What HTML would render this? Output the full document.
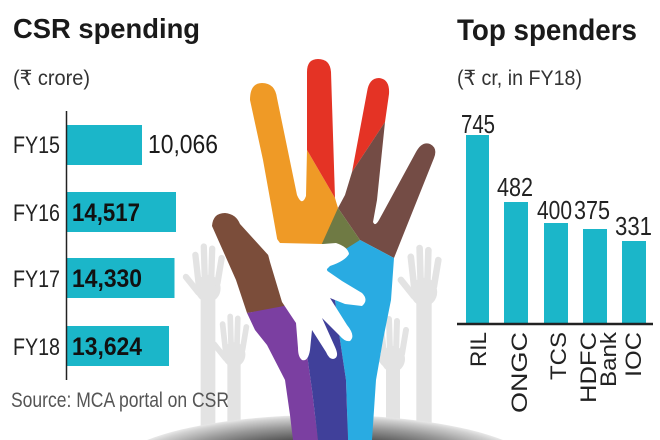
<!DOCTYPE html>
<html><head><meta charset="utf-8"><style>
html,body{margin:0;padding:0;background:#fff;width:660px;height:440px;overflow:hidden;}
svg{display:block;}
text{font-family:"Liberation Sans",sans-serif;}
</style></head><body>
<svg width="660" height="440" viewBox="0 0 660 440" xmlns="http://www.w3.org/2000/svg">
<defs>
<radialGradient id="sh" gradientUnits="userSpaceOnUse" cx="0" cy="0" r="1" gradientTransform="translate(325,472) scale(215,57)">
<stop offset="0" stop-color="#1a1a1a"/>
<stop offset="0.55" stop-color="#4a4a4a"/>
<stop offset="0.8" stop-color="#999"/>
<stop offset="0.95" stop-color="#d0d0d0"/>
<stop offset="1" stop-color="#e8e8e8"/>
</radialGradient>
</defs>
<rect width="660" height="440" fill="#fff"/>

<!-- gray background hands -->
<g fill="#e3e3e3" stroke="#e3e3e3" stroke-linecap="round">
 <g transform="translate(208,278) scale(1.05)">
  <ellipse cx="0" cy="10" rx="12" ry="13" stroke="none"/>
  <line x1="-9" y1="5" x2="-12" y2="-22" stroke-width="6"/>
  <line x1="-3" y1="3" x2="-4" y2="-30" stroke-width="6"/>
  <line x1="3" y1="3" x2="4" y2="-28" stroke-width="6"/>
  <line x1="9" y1="5" x2="13" y2="-19" stroke-width="6"/>
  <line x1="-9" y1="14" x2="-21" y2="-1" stroke-width="6"/>
  <rect x="-7" y="15" width="14" height="138" stroke="none"/>
 </g>
 <g transform="translate(234,345) scale(0.95)">
  <ellipse cx="0" cy="10" rx="12" ry="13" stroke="none"/>
  <line x1="-9" y1="5" x2="-12" y2="-22" stroke-width="6"/>
  <line x1="-3" y1="3" x2="-4" y2="-30" stroke-width="6"/>
  <line x1="3" y1="3" x2="4" y2="-28" stroke-width="6"/>
  <line x1="9" y1="5" x2="13" y2="-19" stroke-width="6"/>
  <line x1="-9" y1="14" x2="-21" y2="-1" stroke-width="6"/>
  <rect x="-7" y="15" width="14" height="83" stroke="none"/>
 </g>
 <g transform="translate(424,281) scale(1.1)">
  <ellipse cx="0" cy="10" rx="12" ry="13" stroke="none"/>
  <line x1="-9" y1="5" x2="-12" y2="-22" stroke-width="6"/>
  <line x1="-3" y1="3" x2="-4" y2="-30" stroke-width="6"/>
  <line x1="3" y1="3" x2="4" y2="-28" stroke-width="6"/>
  <line x1="9" y1="5" x2="13" y2="-19" stroke-width="6"/>
  <line x1="-9" y1="14" x2="-21" y2="-1" stroke-width="6"/>
  <rect x="-7" y="15" width="14" height="128" stroke="none"/>
 </g>
 <g transform="translate(393,349)">
  <ellipse cx="0" cy="10" rx="12" ry="13" stroke="none"/>
  <line x1="-9" y1="5" x2="-12" y2="-22" stroke-width="6"/>
  <line x1="-3" y1="3" x2="-4" y2="-30" stroke-width="6"/>
  <line x1="3" y1="3" x2="4" y2="-28" stroke-width="6"/>
  <line x1="9" y1="5" x2="13" y2="-19" stroke-width="6"/>
  <line x1="-9" y1="14" x2="-21" y2="-1" stroke-width="6"/>
  <rect x="-7" y="15" width="14" height="75" stroke="none"/>
 </g>
</g>

<!-- bottom shadow -->
<path d="M147,440 A215,57 0 0 1 503,440 Z" fill="url(#sh)"/>

<!-- big multicolour hand -->
<path d="M250,100 Q250,83 262,83 Q275,83 277,98 L297,195 Q302,207 306,196 L307,150 L335,198 L338,208 L323,255 L280,255 L272,210 L263,160 Z" fill="#ef9a26"/>
<path d="M307,150 L307,72 Q307,59 318,59 Q330,59 331,72 L335,198 Z" fill="#e43325"/>
<path d="M352,172 L367,92 Q369,78 379,78 Q390,79 389,94 L385,122 Z" fill="#e43325"/>
<path d="M338,208 L345,195 L352,172 L385,122 L377,200 L373,222 Q375,227 379,220 L416,152 Q422,141 430,144 Q438,148 434,158 L394,258 L360,240 Z" fill="#744c45"/>
<path d="M338,208 L360,240 L340,262 L328,272 L320,248 Z" fill="#6f7a44"/>
<path d="M325,262 L360,240 L394,258 L391,300 L383,340 L376,380 L372,440 L348,440 L346,380 L340,340 L335,300 Z" fill="#29abe2"/>

<!-- left arm -->
<path d="M212,226 Q213,213 225,213 Q236,214 240,224 L300,290 L300,305 L247,313 L236,280 Z" fill="#7b4d3a"/>
<path d="M247,313 L300,303 L305,340 L312,390 L318,440 L293,440 L290,415 L285,380 L267,345 L255,330 Z" fill="#7b3fa1"/>
<path d="M298,303 L322,290 L335,300 L340,340 L346,380 L348,440 L318,440 L312,390 L305,340 Z" fill="#40409a"/>

<!-- white hand -->
<path d="M257,212 L280,243 L323,244 L336,243 Q348,247 349,254 Q345,261 330,266 L326,270 L342,281 L362,293 Q369,300 362,306 L345,304 L330,298 L347,325 Q356,336 350,341 Q345,342 340,336 L322,318 L335,347 Q340,358 333,359 Q329,359 326,352 L312,330 L310,350 Q308,362 302,360 Q298,357 298,348 L296,323 L282,302 L270,262 Z" fill="#fff"/>

<!-- LEFT CHART -->
<text x="13" y="38" font-size="28" font-weight="bold" fill="#1a1a1a" textLength="187" lengthAdjust="spacingAndGlyphs">CSR spending</text>
<text x="13" y="85" font-size="21" fill="#333" textLength="77" lengthAdjust="spacingAndGlyphs">(₹ crore)</text>

<rect x="66" y="125" width="76" height="40" fill="#1bb6c9"/>
<rect x="66" y="192" width="110" height="40" fill="#1bb6c9"/>
<rect x="66" y="258" width="108.5" height="40" fill="#1bb6c9"/>
<rect x="66" y="326" width="103" height="40" fill="#1bb6c9"/>
<line x1="66.5" y1="111" x2="66.5" y2="380" stroke="#222" stroke-width="1.5"/>

<g font-size="24" fill="#222">
<text x="13" y="153" textLength="47" lengthAdjust="spacingAndGlyphs">FY15</text>
<text x="13" y="221" textLength="47" lengthAdjust="spacingAndGlyphs">FY16</text>
<text x="13" y="287" textLength="47" lengthAdjust="spacingAndGlyphs">FY17</text>
<text x="13" y="355" textLength="47" lengthAdjust="spacingAndGlyphs">FY18</text>
</g>
<text x="148" y="153" font-size="26" fill="#1a1a1a" textLength="70" lengthAdjust="spacingAndGlyphs">10,066</text>
<g font-size="25" font-weight="bold" fill="#111">
<text x="72" y="221" textLength="68" lengthAdjust="spacingAndGlyphs">14,517</text>
<text x="72" y="287" textLength="70" lengthAdjust="spacingAndGlyphs">14,330</text>
<text x="72" y="355" textLength="70" lengthAdjust="spacingAndGlyphs">13,624</text>
</g>
<text x="11" y="407" font-size="21" fill="#555" textLength="218" lengthAdjust="spacingAndGlyphs">Source: MCA portal on CSR</text>

<!-- RIGHT CHART -->
<text x="457" y="40" font-size="30" font-weight="bold" fill="#1a1a1a" textLength="180" lengthAdjust="spacingAndGlyphs">Top spenders</text>
<text x="457" y="85" font-size="21" fill="#333" textLength="125" lengthAdjust="spacingAndGlyphs">(₹ cr, in FY18)</text>

<rect x="466" y="135" width="23" height="189" fill="#1bb6c9"/>
<rect x="504" y="202" width="24" height="122" fill="#1bb6c9"/>
<rect x="544" y="223" width="24" height="101" fill="#1bb6c9"/>
<rect x="583" y="229" width="24" height="95" fill="#1bb6c9"/>
<rect x="622" y="241" width="24" height="83" fill="#1bb6c9"/>
<line x1="457" y1="324" x2="653" y2="324" stroke="#222" stroke-width="2.5"/>

<g font-size="26" fill="#222">
<text x="461" y="133" textLength="34" lengthAdjust="spacingAndGlyphs">745</text>
<text x="497" y="196" textLength="36" lengthAdjust="spacingAndGlyphs">482</text>
<text x="537" y="219" textLength="35" lengthAdjust="spacingAndGlyphs">400</text>
<text x="574" y="219" textLength="36" lengthAdjust="spacingAndGlyphs">375</text>
<text x="615" y="235" textLength="37" lengthAdjust="spacingAndGlyphs">331</text>
</g>

<g font-size="22" fill="#222" text-anchor="end">
<text transform="translate(486,332) rotate(-90)" textLength="35" lengthAdjust="spacingAndGlyphs">RIL</text>
<text transform="translate(527,332) rotate(-90)" textLength="81" lengthAdjust="spacingAndGlyphs">ONGC</text>
<text transform="translate(566,332) rotate(-90)" textLength="48" lengthAdjust="spacingAndGlyphs">TCS</text>
<text transform="translate(596,332) rotate(-90)" textLength="71" lengthAdjust="spacingAndGlyphs">HDFC</text>
<text transform="translate(616,332) rotate(-90)" textLength="55" lengthAdjust="spacingAndGlyphs">Bank</text>
<text transform="translate(641,332) rotate(-90)" textLength="45" lengthAdjust="spacingAndGlyphs">IOC</text>
</g>
</svg>
</body></html>
